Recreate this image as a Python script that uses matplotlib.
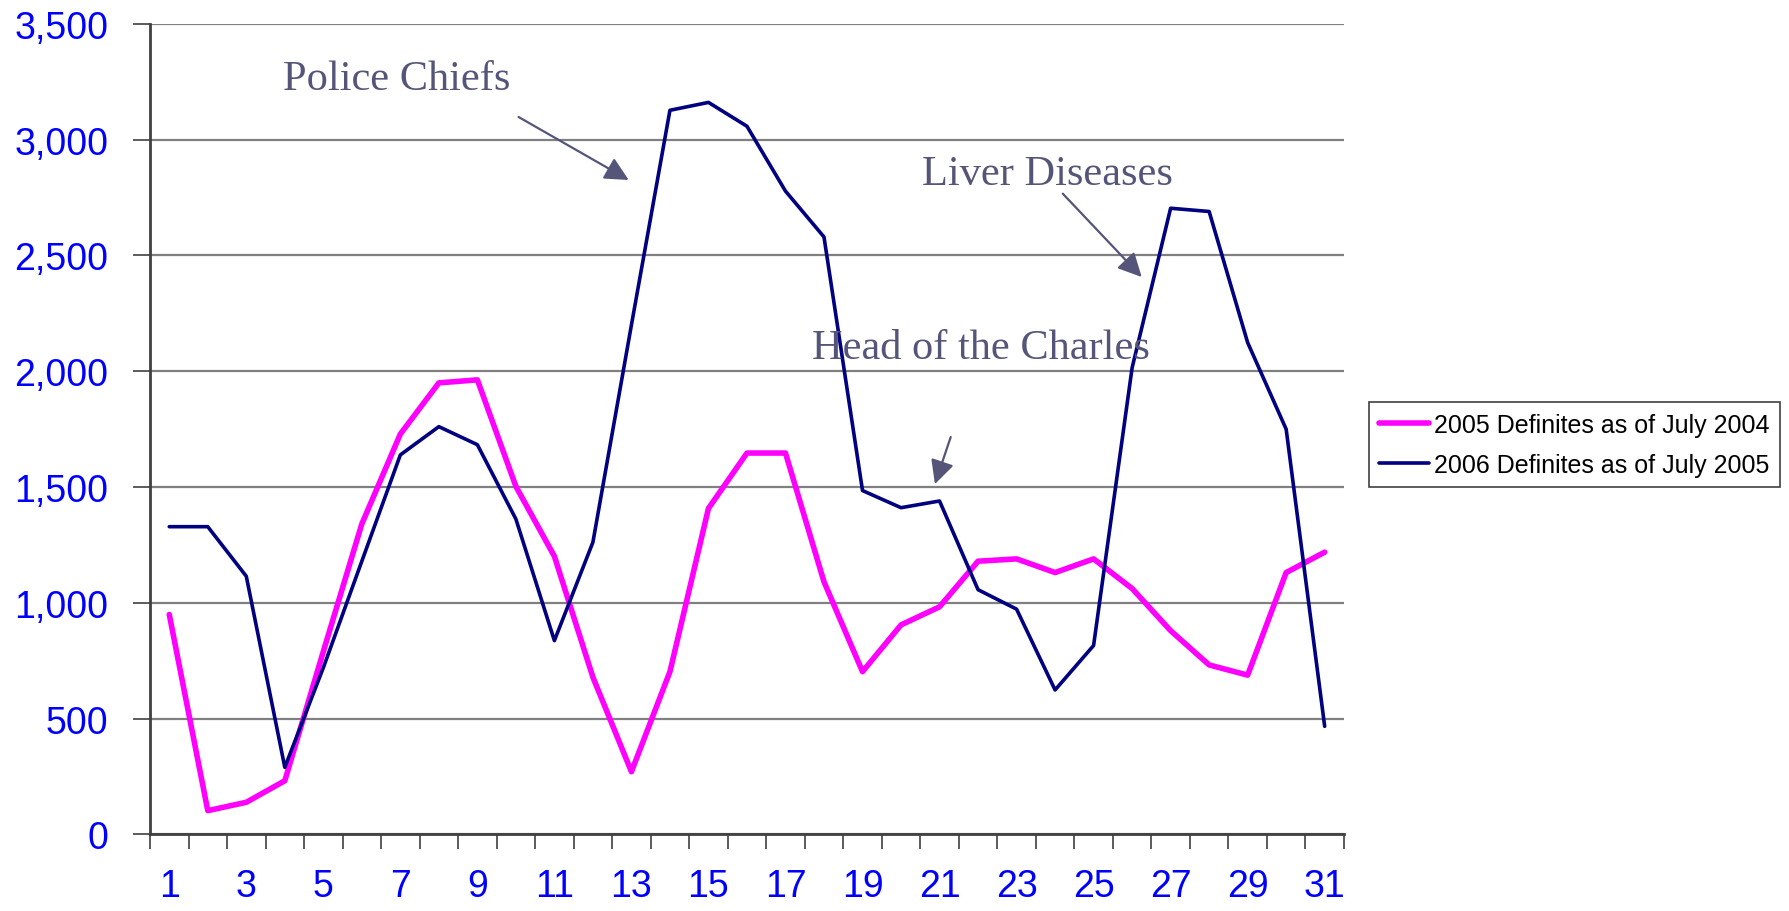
import matplotlib
matplotlib.use("Agg")
from matplotlib import pyplot as plt
from matplotlib.ticker import FuncFormatter, MultipleLocator

days = list(range(1, 32))

defs_2005 = [950, 103, 139, 232, 790, 1341, 1729, 1950, 1963, 1503,
             1201, 679, 271, 703, 1408, 1647, 1647, 1091, 703, 905,
             983, 1180, 1190, 1131, 1190, 1062, 880, 732, 688, 1131, 1219]
defs_2006 = [1329, 1329, 1115, 290, 720, 1180, 1639, 1761, 1683, 1362,
             837, 1262, 2200, 3127, 3161, 3058, 2778, 2580, 1485, 1411,
             1440, 1057, 973, 624, 816, 2015, 2704, 2690, 2124, 1750, 467]

label_2005 = "2005 Definites as of July 2004"
label_2006 = "2006 Definites as of July 2005"

note_color = "#55557a"
tick_color = "#0000ff"


def main():
    fig = plt.figure(figsize=(17.9, 9.12), dpi=100)
    ax = fig.add_axes([0.0838, 0.0839, 0.667, 0.8888])

    ax.plot(days, defs_2005, color="#ff00ff", lw=4.0, label=label_2005,
            solid_joinstyle="round", solid_capstyle="round")
    ax.plot(days, defs_2006, color="#000080", lw=2.6, label=label_2006,
            solid_joinstyle="round", solid_capstyle="round")

    ax.set_xlim(0.5, 31.5)
    ax.set_ylim(0, 3500)

    # y axis
    ax.yaxis.set_major_locator(MultipleLocator(500))
    ax.yaxis.set_major_formatter(FuncFormatter(lambda v, p: f"{int(v):,}"))
    ax.yaxis.grid(True, color="#808080", lw=1.6)
    ax.set_axisbelow(True)

    # x axis: labels on odd days, tick marks between categories
    ax.set_xticks(days[::2])
    ax.set_xticklabels([str(d) for d in days[::2]])
    ax.set_xticks([d + 0.5 for d in range(0, 32)], minor=True)
    ax.tick_params(axis="x", which="major", length=0, pad=24)
    ax.tick_params(axis="x", which="minor", length=11, width=1.2, color="#404040")
    ax.tick_params(axis="y", length=12, width=1.2, color="#404040", pad=18)
    ax.tick_params(labelsize=27, labelcolor=tick_color)

    for s in ["top", "right"]:
        ax.spines[s].set_visible(False)
    for s in ["left", "bottom"]:
        ax.spines[s].set_color("#404040")
        ax.spines[s].set_linewidth(2)

    for lab in ax.get_xticklabels() + ax.get_yticklabels():
        lab.set_fontfamily("Liberation Sans")

    # annotations
    notes = [
        ("Police Chiefs", (6.9, 3265), (10.07, 3098), (12.93, 2826)),
        ("Liver Diseases", (23.8, 2855), (24.2, 2767), (26.25, 2407)),
        ("Head of the Charles", (22.07, 2100), (21.29, 1716), (20.88, 1513)),
    ]
    for text, pos, tail, head in notes:
        ax.text(pos[0], pos[1], text, ha="center", va="center", fontsize=30.5,
                family="Liberation Serif", color=note_color)
        ax.annotate("", xy=head, xytext=tail,
                    arrowprops=dict(arrowstyle="-|>", color=note_color, lw=1.6,
                                    mutation_scale=36, shrinkA=0, shrinkB=0))

    leg = fig.legend(loc="upper left", bbox_to_anchor=(0.7648, 0.558),
                     prop={"family": "Liberation Sans", "size": 18},
                     fancybox=False, framealpha=1, edgecolor="#404040",
                     handlelength=2.0, handletextpad=0.2, borderpad=0.42,
                     labelspacing=0.65, borderaxespad=0)
    leg.get_frame().set_linewidth(1.2)

    fig.savefig("out.png", dpi=100)


if __name__ == "__main__":
    main()
